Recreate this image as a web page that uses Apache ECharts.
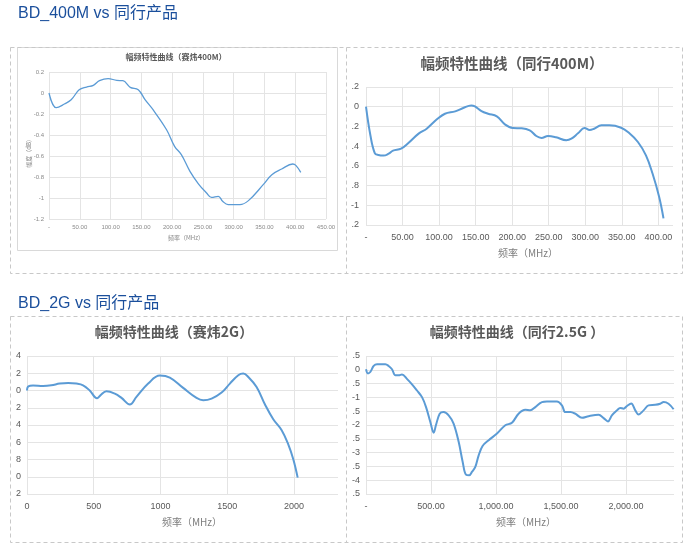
<!DOCTYPE html>
<html><head><meta charset="utf-8">
<script src="https://cdn.jsdelivr.net/npm/echarts@6/dist/echarts.min.js"></script>
<style>html,body{margin:0;padding:0;background:#fff}#c{width:690px;height:550px}</style>
</head><body><div id="c"></div>
<script>
// ---------- text ----------
const heading1 = 'BD_400M vs 同行产品';
const heading2 = 'BD_2G vs 同行产品';
const titles = ['幅频特性曲线（赛炜400M）', '幅频特性曲线（同行400M）', '幅频特性曲线（赛炜2G）', '幅频特性曲线（同行2.5G ）'];
const xName = '频率（MHz）';
const yName1 = '幅度（dB）';

// ---------- tick labels ----------
const p1YTicks = [0.2, 0, -0.2, -0.4, -0.6, -0.8, -1, -1.2];
const p1YLabels = ['0.2', '0', '-0.2', '-0.4', '-0.6', '-0.8', '-1', '-1.2'];
const p1XTicks = [0, 50, 100, 150, 200, 250, 300, 350, 400, 450];
const p1XLabels = ['-', '50.00', '100.00', '150.00', '200.00', '250.00', '300.00', '350.00', '400.00', '450.00'];

const p2YTicks = [0.2, 0, -0.2, -0.4, -0.6, -0.8, -1, -1.2];
const p2YLabels = ['.2', '0', '.2', '.4', '.6', '.8', '-1', '.2'];
const p2XTicks = [0, 50, 100, 150, 200, 250, 300, 350, 400];
const p2XLabels = ['-', '50.00', '100.00', '150.00', '200.00', '250.00', '300.00', '350.00', '400.00'];

const p3YTicks = [4, 2, 0, -2, -4, -6, -8, -10, -12];
const p3YLabels = ['4', '2', '0', '2', '4', '6', '8', '0', '2'];
const p3XTicks = [0, 500, 1000, 1500, 2000];
const p3XLabels = ['0', '500', '1000', '1500', '2000'];

const p4YTicks = [0.5, 0, -0.5, -1, -1.5, -2, -2.5, -3, -3.5, -4, -4.5];
const p4YLabels = ['.5', '0', '.5', '-1', '.5', '-2', '.5', '-3', '.5', '-4', '.5'];
const p4XTicks = [0, 500, 1000, 1500, 2000];
const p4XLabels = ['-', '500.00', '1,000.00', '1,500.00', '2,000.00'];

// ---------- series values ----------
const p1Freq = [0, 12, 25, 36, 49, 61, 72, 82, 96, 110, 120, 132, 145, 156, 169, 191, 204, 215, 229, 243, 256, 264, 275, 282, 291, 310, 324, 348, 362, 378, 396, 401, 409];
const p1Amp = [0, -0.14, -0.105, -0.065, 0.03, 0.057, 0.073, 0.117, 0.137, 0.12, 0.117, 0.054, 0.032, -0.063, -0.159, -0.35, -0.508, -0.587, -0.746, -0.867, -0.952, -0.994, -0.984, -1.03, -1.063, -1.063, -1.025, -0.873, -0.778, -0.724, -0.676, -0.689, -0.756];

const p2Freq = [0, 6, 12, 17, 24, 31, 37, 48, 58, 72, 83, 97, 108, 122, 133, 144, 149, 158, 167, 179, 190, 201, 213, 224, 233, 240, 249, 260, 274, 281, 290, 299, 306, 312, 322, 333, 349, 360, 372, 383, 392, 401, 407];
const p2Amp = [0, -0.29, -0.47, -0.49, -0.496, -0.476, -0.445, -0.425, -0.368, -0.273, -0.223, -0.128, -0.071, -0.047, -0.013, 0.013, 0.003, -0.044, -0.071, -0.098, -0.179, -0.216, -0.219, -0.24, -0.297, -0.317, -0.297, -0.31, -0.34, -0.324, -0.27, -0.216, -0.236, -0.223, -0.189, -0.189, -0.213, -0.267, -0.358, -0.493, -0.678, -0.914, -1.133];

const p3Freq = [0, 10, 45, 120, 182, 245, 308, 370, 420, 470, 525, 550, 595, 658, 708, 770, 820, 908, 995, 1070, 1170, 1270, 1320, 1383, 1458, 1520, 1583, 1620, 1658, 1720, 1783, 1845, 1908, 1958, 1995, 2028];
const p3Amp = [0, 0.49, 0.57, 0.53, 0.6, 0.8, 0.88, 0.8, 0.6, 0.0, -0.9, -0.56, -0.09, -0.36, -0.86, -1.63, -0.74, 0.8, 1.73, 1.5, 0.3, -0.86, -1.13, -0.94, -0.24, 0.8, 1.77, 1.96, 1.57, 0.4, -1.63, -3.33, -4.6, -6.27, -7.96, -10.1];

const p4Freq = [0, 15, 33, 59, 85, 149, 174, 200, 226, 251, 277, 315, 354, 392, 431, 462, 495, 521, 538, 567, 597, 636, 674, 713, 744, 769, 795, 815, 841, 867, 897, 944, 1008, 1072, 1123, 1174, 1226, 1264, 1303, 1354, 1392, 1469, 1508, 1533, 1572, 1610, 1662, 1713, 1790, 1828, 1862, 1892, 1931, 1956, 1982, 2008, 2041, 2072, 2097, 2136, 2174, 2226, 2264, 2290, 2328, 2367];
const p4Amp = [0.02, -0.13, -0.08, 0.14, 0.2, 0.2, 0.14, 0.02, -0.2, -0.2, -0.17, -0.33, -0.53, -0.75, -0.99, -1.35, -1.89, -2.28, -2.01, -1.59, -1.53, -1.65, -1.95, -2.61, -3.34, -3.8, -3.82, -3.7, -3.52, -3.1, -2.76, -2.55, -2.31, -2.01, -1.92, -1.59, -1.45, -1.47, -1.35, -1.17, -1.15, -1.15, -1.29, -1.53, -1.53, -1.59, -1.74, -1.68, -1.63, -1.75, -1.87, -1.65, -1.47, -1.38, -1.41, -1.31, -1.22, -1.47, -1.62, -1.47, -1.29, -1.27, -1.23, -1.17, -1.23, -1.43];

// ---------- helpers ----------
function labeler(ticks, labels) {
  return function (v) {
    for (let i = 0; i < ticks.length; i++) if (Math.abs(ticks[i] - v) < 1e-6) return labels[i];
    return '';
  };
}
function pairs(xs, ys) { return xs.map((x, i) => [x, ys[i]]); }

const FONT = "'Liberation Sans', 'Noto Sans CJK SC', sans-serif";
const CJK = "'Noto Sans CJK SC', 'Liberation Sans', sans-serif";
const GRID_C = '#e4e4e4';
const LINE_C = '#5b9bd5';

function xAxisCfg(gi, min, max, interval, ticks, labels, fs, color, margin, showMax) {
  return {
    type: 'value', gridIndex: gi, min: min, max: max, interval: interval,
    axisLine: { show: false }, axisTick: { show: false },
    splitLine: { show: true, showMaxLine: showMax, lineStyle: { color: GRID_C, width: 1 } },
    axisLabel: { formatter: labeler(ticks, labels), fontSize: fs, color: color, margin: margin, fontFamily: FONT, showMaxLabel: showMax, hideOverlap: false }
  };
}
function yAxisCfg(gi, min, max, interval, ticks, labels, fs, color, margin) {
  return {
    type: 'value', gridIndex: gi, min: min, max: max, interval: interval,
    axisLine: { show: false }, axisTick: { show: false },
    splitLine: { show: true, lineStyle: { color: GRID_C, width: 1 } },
    axisLabel: { formatter: labeler(ticks, labels), fontSize: fs, color: color, margin: margin, fontFamily: FONT, hideOverlap: false }
  };
}
function txt(x, y, text, size, color, weight, font, rot) {
  return { type: 'text', x: x, y: y, rotation: rot || 0, z: 10,
    style: { text: text, fontSize: size, fill: color, fontWeight: weight || 'normal', fontFamily: font || CJK, align: 'center', verticalAlign: 'middle' } };
}
function dashRect(x, y, w, h) {
  return { type: 'rect', shape: { x: x, y: y, width: w, height: h }, z: 5,
    style: { fill: null, stroke: '#c8c8c8', lineWidth: 1, lineDash: [4, 3] } };
}

const chart = echarts.init(document.getElementById('c'), null, { renderer: 'canvas' });
chart.setOption({
  backgroundColor: '#ffffff',
  animation: false,
  grid: [
    { left: 49, right: 364, top: 72, bottom: 331, outerBoundsMode: 'none' },
    { left: 366, right: 17, top: 87, bottom: 325, outerBoundsMode: 'none' },
    { left: 27, right: 352, top: 356, bottom: 56, outerBoundsMode: 'none' },
    { left: 366, right: 16, top: 356, bottom: 56, outerBoundsMode: 'none' }
  ],
  xAxis: [
    xAxisCfg(0, 0, 450, 50, p1XTicks, p1XLabels, 6, '#8a8a8a', 5, true),
    xAxisCfg(1, 0, 420, 50, p2XTicks, p2XLabels, 9, '#595959', 8, false),
    xAxisCfg(2, 0, 2330, 500, p3XTicks, p3XLabels, 9, '#595959', 8, false),
    xAxisCfg(3, 0, 2370, 500, p4XTicks, p4XLabels, 9, '#595959', 8, false)
  ],
  yAxis: [
    yAxisCfg(0, -1.2, 0.2, 0.2, p1YTicks, p1YLabels, 6, '#8a8a8a', 5),
    yAxisCfg(1, -1.2, 0.2, 0.2, p2YTicks, p2YLabels, 9, '#595959', 7),
    yAxisCfg(2, -12, 4, 2, p3YTicks, p3YLabels, 9, '#595959', 6),
    yAxisCfg(3, -4.5, 0.5, 0.5, p4YTicks, p4YLabels, 9, '#595959', 6)
  ],
  series: [
    { type: 'line', xAxisIndex: 0, yAxisIndex: 0, data: pairs(p1Freq, p1Amp), smooth: 0.4, showSymbol: false, lineStyle: { color: LINE_C, width: 1.3 } },
    { type: 'line', xAxisIndex: 1, yAxisIndex: 1, data: pairs(p2Freq, p2Amp), smooth: 0.4, showSymbol: false, lineStyle: { color: LINE_C, width: 2 } },
    { type: 'line', xAxisIndex: 2, yAxisIndex: 2, data: pairs(p3Freq, p3Amp), smooth: 0.4, showSymbol: false, lineStyle: { color: LINE_C, width: 2 } },
    { type: 'line', xAxisIndex: 3, yAxisIndex: 3, data: pairs(p4Freq, p4Amp), smooth: 0.35, showSymbol: false, lineStyle: { color: LINE_C, width: 2 } }
  ],
  graphic: [
    dashRect(10.5, 47.5, 672, 226),
    { type: 'line', shape: { x1: 346.5, y1: 47.5, x2: 346.5, y2: 273.5 }, z: 5, style: { stroke: '#c8c8c8', lineWidth: 1, lineDash: [4, 3] } },
    { type: 'rect', shape: { x: 17.5, y: 47.5, width: 320, height: 203 }, z: 4, style: { fill: null, stroke: '#d9d9d9', lineWidth: 1 } },
    dashRect(10.5, 316.5, 672, 226),
    { type: 'line', shape: { x1: 346.5, y1: 316.5, x2: 346.5, y2: 542.5 }, z: 5, style: { stroke: '#c8c8c8', lineWidth: 1, lineDash: [4, 3] } },
    { type: 'text', x: 18, y: 14, z: 10, style: { text: heading1, fontSize: 16, fill: '#1b4f9c', fontFamily: FONT, align: 'left', verticalAlign: 'middle' } },
    { type: 'text', x: 18, y: 304, z: 10, style: { text: heading2, fontSize: 16, fill: '#1b4f9c', fontFamily: FONT, align: 'left', verticalAlign: 'middle' } },
    txt(176, 57, titles[0], 8, '#595959', 'bold'),
    txt(512, 63, titles[1], 14.5, '#595959', 'bold'),
    txt(174, 332, titles[2], 14, '#595959', 'bold'),
    txt(517, 332, titles[3], 14, '#595959', 'bold'),
    txt(186, 238, xName, 6, '#8a8a8a'),
    txt(29, 152, yName1, 6, '#8a8a8a', 'normal', CJK, Math.PI / 2),
    txt(528, 253, xName, 10, '#7f7f7f'),
    txt(192, 522, xName, 10, '#7f7f7f'),
    txt(526, 522, xName, 10, '#7f7f7f')
  ]
});
</script>
</body></html>
